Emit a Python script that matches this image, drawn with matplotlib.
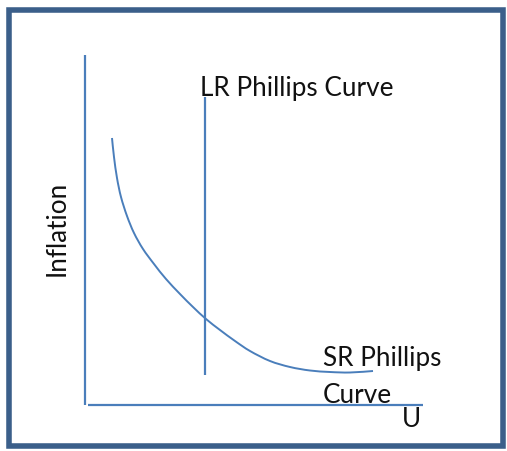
import matplotlib
matplotlib.use('Agg')
import matplotlib.pyplot as plt
from matplotlib.patches import Rectangle, PathPatch
from matplotlib.path import Path

# short-run Phillips curve (pixel coords, y down)
sr_x = [112, 114, 117, 121, 127, 134, 143, 154, 166, 180, 193, 206, 220, 235, 250, 270, 290, 310, 330, 350, 373]
sr_y = [138, 157, 178, 197, 216, 233, 249, 264, 279, 294, 307, 319, 330, 341, 351, 361, 367, 370.5, 372, 372.5, 371]

# long-run Phillips curve (vertical)
lr_x = [205, 205]
lr_y = [97, 375]

# axes lines
yaxis_x = [85, 85]
yaxis_y = [55, 405]
xaxis_x = [88, 423]
xaxis_y = [405, 405]

labels = {
    'lr': 'LR Phillips Curve',
    'sr': 'SR Phillips\nCurve',
    'x': 'U',
    'y': 'Inflation',
}

blue = '#4A7EBB'
plt.rcParams['font.family'] = ['Lato', 'DejaVu Sans']


def smooth_path(xs, ys):
    # catmull-rom through the read points, as cubic bezier segments
    pts = list(zip(xs, ys))
    verts = [pts[0]]
    codes = [Path.MOVETO]
    for i in range(len(pts) - 1):
        p0 = pts[i - 1] if i > 0 else pts[i]
        p1 = pts[i]
        p2 = pts[i + 1]
        p3 = pts[i + 2] if i + 2 < len(pts) else pts[i + 1]
        c1 = (p1[0] + (p2[0] - p0[0]) / 6, p1[1] + (p2[1] - p0[1]) / 6)
        c2 = (p2[0] - (p3[0] - p1[0]) / 6, p2[1] - (p3[1] - p1[1]) / 6)
        verts += [c1, c2, p2]
        codes += [Path.CURVE4] * 3
    return Path(verts, codes)


fig = plt.figure(figsize=(5.07, 4.51), dpi=100)
ax = fig.add_axes([0, 0, 1, 1])
ax.set_xlim(0, 507)
ax.set_ylim(451, 0)
ax.axis('off')

# outer frame
ax.add_patch(Rectangle((8.5, 9.5), 494, 436, fill=False, edgecolor='#3B5F8A', linewidth=4))

ax.plot(yaxis_x, yaxis_y, color=blue, lw=1.6, solid_capstyle='butt')
ax.plot(xaxis_x, xaxis_y, color=blue, lw=1.6, solid_capstyle='butt')
ax.plot(lr_x, lr_y, color=blue, lw=1.6, solid_capstyle='butt')
ax.add_patch(PathPatch(smooth_path(sr_x, sr_y), fill=False, edgecolor=blue, lw=1.4))

fs = 18.8
ax.text(200, 96, labels['lr'], fontsize=fs, ha='left', va='baseline', color='#111111')
# baseline of a multi-line text is the last line
ax.text(323, 403, labels['sr'], fontsize=fs, ha='left', va='baseline', linespacing=1.62, color='#111111')
ax.text(411, 427, labels['x'], fontsize=fs, ha='center', va='baseline', color='#111111')
ax.text(57, 228, labels['y'], fontsize=fs, ha='center', va='center', rotation=90, color='#111111')

fig.savefig('out.png', dpi=100)
